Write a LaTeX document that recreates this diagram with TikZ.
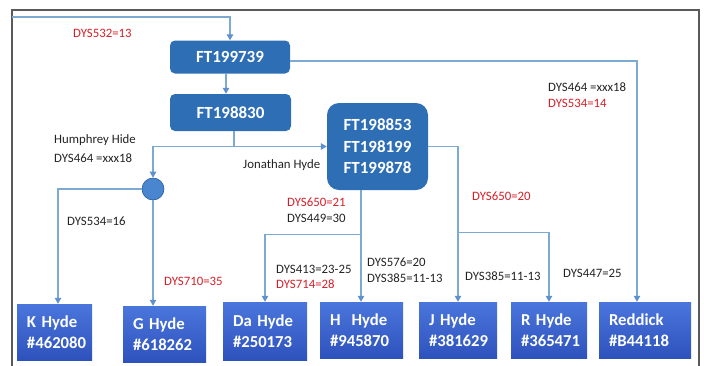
\documentclass[tikz,border=0pt]{standalone}
\usepackage{fontspec}
\setmainfont{Carlito}
\usetikzlibrary{arrows.meta,calc}
\definecolor{conn}{RGB}{125,170,210}
\definecolor{tipc}{RGB}{95,145,205}
\definecolor{topblue}{RGB}{46,110,181}
\definecolor{botA}{RGB}{74,118,220}
\definecolor{botB}{RGB}{46,82,188}
\definecolor{redt}{RGB}{215,30,40}
\definecolor{darkt}{RGB}{35,35,35}
\definecolor{framec}{RGB}{90,90,90}
\tikzset{
  topbox/.style={draw=none, fill=topblue, rounded corners=5pt, text=white,
    font=\fontsize{17}{20}\selectfont\bfseries, inner sep=0pt},
  botbox/.style={draw=none, top color=botA, bottom color=botB, text=white,
    font=\fontsize{16.7}{20.5}\selectfont\bfseries, align=left, inner xsep=10pt, inner ysep=0pt},
  conline/.style={draw=conn, line width=1.2pt},
  arr/.style={conline, -{Triangle[length=6pt,width=6.5pt,color=tipc]}},
  lab/.style={font=\fontsize{12.8}{15}\selectfont, text=darkt, anchor=west, inner sep=0pt},
  redlab/.style={lab, text=redt}
}
\begin{document}
\begin{tikzpicture}[x=1pt,y=-1pt]
\useasboundingbox (0,0) rectangle (704,365);
% frame
\draw[framec, line width=1.3pt] (12,366) -- (12,10) -- (699,10) -- (699,366);

% top nodes
\node[topbox, minimum width=120pt, minimum height=33pt] (ft1) at (230,57) {FT199739};
\node[topbox, minimum width=121pt, minimum height=37pt] (ft2) at (230.5,112.5) {FT198830};
\node[topbox, rounded corners=12pt, minimum width=101pt, minimum height=87pt, align=center,
  font=\fontsize{17}{21.5}\selectfont\bfseries] (big) at (377.5,146.5) {FT198853\\FT198199\\FT199878};
\node[circle, draw=topblue!85!black, line width=0.6pt, fill={rgb,255:red,74;green,134;blue,208}, minimum size=22pt, inner sep=0pt] (circ) at (153,189) {};

% bottom nodes
\node[botbox, minimum height=56pt, text width=55pt] (kh) at (54.5,332) {K Hyde\\\#462080};
\node[botbox, minimum height=56pt, text width=63pt] (gh) at (164.5,334) {G Hyde\\\#618262};
\node[botbox, minimum height=58pt, text width=64pt] (dh) at (265,331) {Da Hyde\\\#250173};
\node[botbox, minimum height=56pt, text width=63pt] (hh) at (361.5,330) {H\ \ Hyde\\\#945870};
\node[botbox, minimum height=56pt, text width=58pt] (jh) at (458,330) {J Hyde\\\#381629};
\node[botbox, minimum height=56pt, text width=56pt] (rh) at (549,330) {R Hyde\\\#365471};
\node[botbox, minimum height=56pt, text width=72pt] (rd) at (645,330) {Reddick\\\#B44118};

% connectors
\coordinate (src) at (12,17);
\draw[arr] (src) -| (ft1.north);
\draw[arr] ($(ft1.south)+(-4,0)$) -- ($(ft2.north)+(-4.5,0)$);
\draw[arr] ($(ft1.east)+(0,4)$) -| ($(rd.north)+(-8,0)$);

\coordinate (j1) at ($(ft2.south)+(3.5,0)$);
\coordinate (j1b) at (j1 |- big.west);
\draw[conline] (j1) -- (j1b);
\draw[arr] (j1b) -- (big.west);
\draw[arr] (j1b) -| (circ.north);

\draw[arr] (circ.west) -| ($(kh.north)+(3.5,0)$);
\draw[arr] (circ.south) -- (circ.south |- gh.north);

\coordinate (b1) at ($(big.south)+(-16.5,0)$);
\draw[arr] (b1) -- (b1 |- hh.north);
\coordinate (j2) at ($(b1)+(0,44)$);
\draw[arr] (j2) -| (dh.north);

\draw[arr] (big.east) -| (jh.north);
\coordinate (j3) at ($(jh.north)+(0,-69)$);
\draw[arr] (j3) -| (rh.north);

% labels
\node[redlab] (l1) at (73,33) {DYS532=13};
\node[lab] (l2) at (548,87) {DYS464 =xxx18};
\node[redlab] (l3) at (548,103) {DYS534=14};
\node[lab] (l4) at (54,140) {Humphrey Hide};
\node[lab] (l5) at (54,158) {DYS464 =xxx18};
\node[lab] (l6) at (243,165) {Jonathan Hyde};
\node[lab] (l7) at (67,221) {DYS534=16};
\node[redlab] (l8) at (164,281) {DYS710=35};
\node[redlab] (l9) at (287,202) {DYS650=21};
\node[lab] (l10) at (287,218) {DYS449=30};
\node[lab] (l11) at (276,269) {DYS413=23-25};
\node[redlab] (l12) at (276,284) {DYS714=28};
\node[lab] (l13) at (367,262) {DYS576=20};
\node[lab] (l14) at (367,278) {DYS385=11-13};
\node[redlab] (l15) at (472,196) {DYS650=20};
\node[lab] (l16) at (465,276) {DYS385=11-13};
\node[lab] (l17) at (563,273) {DYS447=25};
\end{tikzpicture}
\end{document}
